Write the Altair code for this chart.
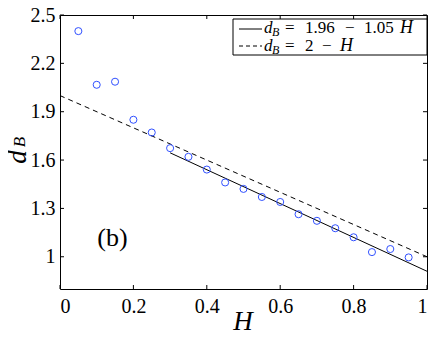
import altair as alt
import pandas as pd

# ---- data ----
H_vals = [0.05, 0.10, 0.15, 0.20, 0.25, 0.30, 0.35, 0.40, 0.45, 0.50,
          0.55, 0.60, 0.65, 0.70, 0.75, 0.80, 0.85, 0.90, 0.95]
dB_vals = [2.400, 2.067, 2.086, 1.850, 1.771, 1.674, 1.620, 1.541, 1.461, 1.421,
           1.371, 1.340, 1.264, 1.223, 1.177, 1.121, 1.029, 1.048, 0.996]

fit_H = [0.30, 1.00]          # solid: d_B = 1.96 - 1.05H
fit_dB = [1.645, 0.910]
ref_H = [0.00, 1.00]          # dashed: d_B = 2 - H
ref_dB = [2.00, 1.00]

x_ticks = [0, 0.2, 0.4, 0.6, 0.8, 1]
y_ticks = [1, 1.3, 1.6, 1.9, 2.2, 2.5]

panel_label = "(b)"
legend_fit = ["d", "B", "=", "1.96", "\u2212", "1.05", "H"]
legend_ref = ["d", "B", "=", "2", "\u2212", "H"]
x_title = "H"
y_title = ["d", "B"]

W, Hh = 367, 274
FONT = "Liberation Serif"
BLUE = "#3050ff"

pts = pd.DataFrame({"H": H_vals, "dB": dB_vals})
fit = pd.DataFrame({"H": fit_H, "dB": fit_dB})
ref = pd.DataFrame({"H": ref_H, "dB": ref_dB})
xt = pd.DataFrame({"H": x_ticks})
yt = pd.DataFrame({"dB": y_ticks})

xs = alt.Scale(domain=[0, 1], nice=False, zero=False)
ys = alt.Scale(domain=[0.8, 2.5], nice=False, zero=False)
x_axis = alt.Axis(values=x_ticks, format="~g", title=None, labelPadding=7,
                  labelFontSize=20, labelFont=FONT, labelColor="black",
                  ticks=False, tickSize=0, domain=False, grid=False)
y_axis = alt.Axis(values=y_ticks, format="~g", title=None, labelPadding=5,
                  labelFontSize=20, labelFont=FONT, labelColor="black",
                  ticks=False, tickSize=0, domain=False, grid=False)
X = alt.X("H:Q", scale=xs, axis=x_axis)
Y = alt.Y("dB:Q", scale=ys, axis=y_axis)

points = alt.Chart(pts).mark_point(
    shape="circle", filled=False, size=50, strokeWidth=1, color=BLUE, opacity=1
).encode(x=X, y=Y)

fit_line = alt.Chart(fit).mark_line(color="black", strokeWidth=1).encode(x=X, y=Y)
ref_line = alt.Chart(ref).mark_line(color="black", strokeWidth=1, strokeDash=[5, 4]).encode(x=X, y=Y)

TL = 4
ticks = [
    alt.Chart(xt).mark_rule(color="black", strokeWidth=1).encode(
        x=X, y=alt.value(Hh), y2=alt.value(Hh - TL)),
    alt.Chart(xt).mark_rule(color="black", strokeWidth=1).encode(
        x=X, y=alt.value(0), y2=alt.value(TL)),
    alt.Chart(yt).mark_rule(color="black", strokeWidth=1).encode(
        y=Y, x=alt.value(0), x2=alt.value(TL)),
    alt.Chart(yt).mark_rule(color="black", strokeWidth=1).encode(
        y=Y, x=alt.value(W), x2=alt.value(W - TL)),
]

one = alt.Data(values=[{}])


def txt(t, x, y, size, italic=False, align="left", angle=0):
    kw = dict(text=t, font=FONT, fontSize=size, color="black", align=align,
              baseline="alphabetic")
    if italic:
        kw["fontStyle"] = "italic"
    if angle:
        kw["angle"] = angle
    return alt.Chart(one).mark_text(**kw).encode(x=alt.value(x), y=alt.value(y))


# legend box
legend_box = alt.Chart(one).mark_rect(fill="white", stroke="black", strokeWidth=1).encode(
    x=alt.value(173), x2=alt.value(367), y=alt.value(4), y2=alt.value(40))
leg_solid = alt.Chart(one).mark_rule(color="black", strokeWidth=1).encode(
    x=alt.value(179), x2=alt.value(202), y=alt.value(14))
leg_dash = alt.Chart(one).mark_rule(color="black", strokeWidth=1, strokeDash=[4, 3]).encode(
    x=alt.value(179), x2=alt.value(202), y=alt.value(31))

LS = 17
b1, b2 = 18, 35.5
leg_text = [
    txt(legend_fit[0], 204, b1, LS, True),
    txt(legend_fit[1], 212, b1 + 3, 12, True),
    txt(legend_fit[2], 225, b1, LS),
    txt(legend_fit[3], 245, b1, LS),
    txt(legend_fit[4], 285, b1, LS),
    txt(legend_fit[5], 304, b1, LS),
    txt(legend_fit[6], 340, b1, LS + 1, True),
    txt(legend_ref[0], 204, b2, LS, True),
    txt(legend_ref[1], 212, b2 + 3, 12, True),
    txt(legend_ref[2], 225, b2, LS),
    txt(legend_ref[3], 245, b2, LS),
    txt(legend_ref[4], 262, b2, LS),
    txt(legend_ref[5], 280, b2, LS + 1, True),
]

annot = [
    txt(panel_label, 52.5, 231, 26, align="center"),
    txt(x_title, 183, 315, 27, True, align="center"),
    txt(y_title[0], -34, 142, 27, True, align="center", angle=270),
    txt(y_title[1], -35, 127, 17, True, align="center", angle=270),
]

chart = alt.layer(
    ref_line, fit_line, *ticks, points, legend_box, leg_solid, leg_dash, *leg_text, *annot
).properties(
    width=W, height=Hh, autosize="none",
    padding={"left": 52, "top": 7, "right": 1, "bottom": 48},
).configure_view(
    stroke="black", strokeWidth=1
)

chart.save("out.html", embed_options={"renderer": "svg", "actions": False})
